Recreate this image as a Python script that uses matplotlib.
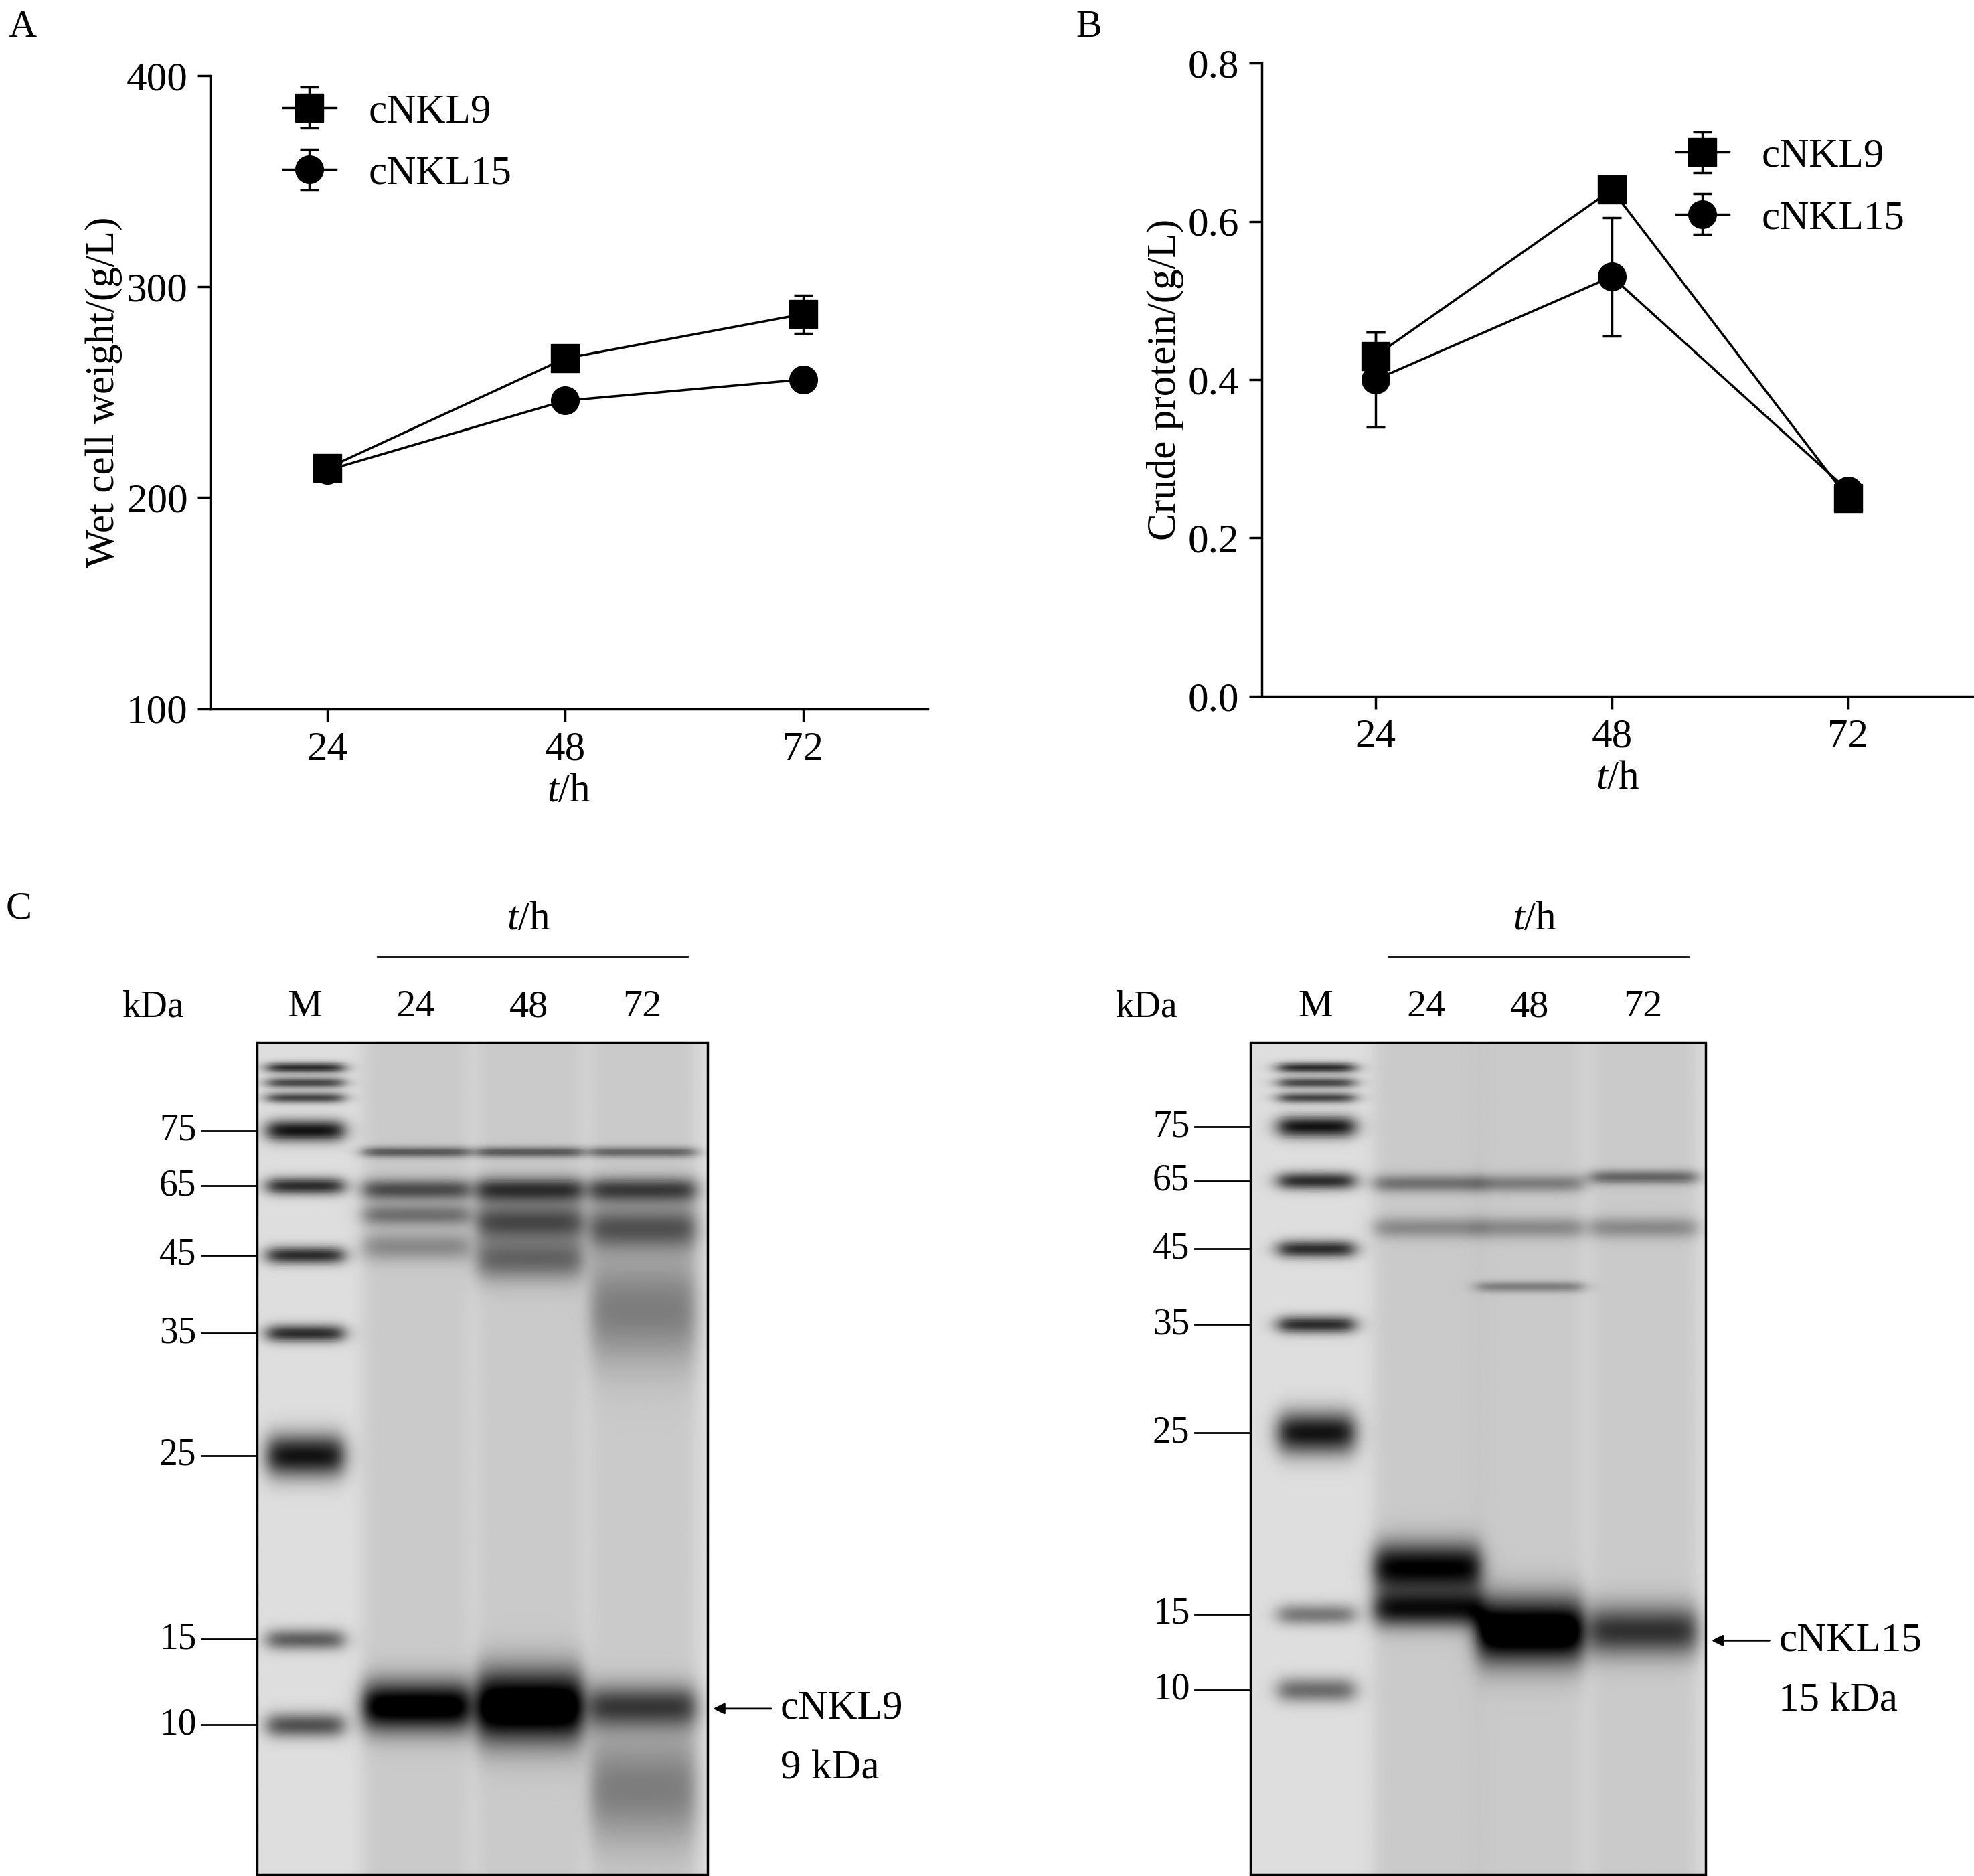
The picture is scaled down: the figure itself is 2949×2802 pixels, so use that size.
import numpy as np
import matplotlib
matplotlib.use("Agg")
import matplotlib.pyplot as plt

plt.rcParams['font.family'] = ['Liberation Serif', 'DejaVu Serif']
plt.rcParams['mathtext.fontset'] = 'custom'
plt.rcParams['mathtext.it'] = 'Liberation Serif:italic'
plt.rcParams['mathtext.rm'] = 'Liberation Serif'

hours = [24, 48, 72]
series = ['cNKL9', 'cNKL15']
wet_cNKL9 = [214, 266, 287]
wet_cNKL9_err = [6, 3, 9]
wet_cNKL15 = [213, 246, 256]
wet_cNKL15_err = [3, 3, 3]
prot_cNKL9 = [0.43, 0.64, 0.25]
prot_cNKL9_err = [0.03, 0.01, 0.01]
prot_cNKL15 = [0.40, 0.53, 0.26]
prot_cNKL15_err = [0.06, 0.075, 0.01]

marker_labels = ['75', '65', '45', '35', '25', '15', '10']
gel1_marker_y = [898, 942, 997, 1059, 1156, 1302, 1370]
gel2_marker_y = [895, 938, 992, 1052, 1138, 1282, 1342]
lane_labels = ['M', '24', '48', '72']
gel1_lane_x = [242, 330, 420, 510]
gel2_lane_x = [1045, 1133, 1215, 1305]
# bands: (lane index, y, darkness, sigma_y)
gel1_bands = [(0, 848, .7, 3), (0, 860, .6, 3), (0, 872, .6, 3), (0, 898, .8, 6), (0, 942, .7, 5),
              (0, 997, .7, 5), (0, 1059, .7, 5), (0, 1156, .8, 12), (0, 1302, .5, 6), (0, 1370, .55, 7),
              (1, 915, .45, 3), (1, 945, .5, 6), (1, 965, .35, 6), (1, 990, .25, 8), (1, 1355, .9, 14),
              (2, 915, .45, 3), (2, 945, .6, 7), (2, 970, .5, 10), (2, 1000, .4, 12), (2, 1355, 1.0, 20),
              (3, 915, .4, 3), (3, 945, .55, 7), (3, 975, .45, 12), (3, 1040, .3, 30), (3, 1355, .55, 12), (3, 1420, .3, 30)]
gel2_bands = [(0, 848, .7, 3), (0, 860, .6, 3), (0, 872, .6, 3), (0, 895, .8, 6), (0, 938, .7, 5),
              (0, 992, .7, 5), (0, 1052, .7, 5), (0, 1138, .8, 12), (0, 1282, .4, 6), (0, 1342, .45, 7),
              (1, 940, .35, 5), (1, 975, .25, 6), (1, 1245, .8, 14), (1, 1278, .7, 10),
              (2, 940, .3, 5), (2, 975, .25, 6), (2, 1022, .3, 3), (2, 1295, 1.0, 18),
              (3, 935, .4, 4), (3, 975, .25, 6), (3, 1295, .6, 14)]

W, H = 1568, 1490
fig = plt.figure(figsize=(29.49, 28.02), dpi=100)

def rect(x0, y0, x1, y1):
    return [x0 / W, 1 - y1 / H, (x1 - x0) / W, (y1 - y0) / H]

FS = 44

def line_panel(r, xl, yl, ylim, yticks, fmt, d1, e1, d2, e2, ylabel, legpos):
    ax = fig.add_axes(rect(*r))
    ax.errorbar(hours, d1, yerr=e1, color='black', marker='s', ms=30, lw=2.5, capsize=10, elinewidth=2.5, capthick=2.5, label=series[0])
    ax.errorbar(hours, d2, yerr=e2, color='black', marker='o', ms=30, lw=2.5, capsize=10, elinewidth=2.5, capthick=2.5, label=series[1])
    ax.set_xlim(*xl)
    ax.set_ylim(*ylim)
    ax.set_xticks(hours)
    ax.set_yticks(yticks)
    ax.set_yticklabels([fmt.format(v) for v in yticks])
    for s in ['top', 'right']:
        ax.spines[s].set_visible(False)
    for s in ['left', 'bottom']:
        ax.spines[s].set_linewidth(2.5)
    ax.tick_params(labelsize=FS, width=2.5, length=14, direction='out', pad=10)
    ax.set_xlabel(r'$t$/h', fontsize=FS, labelpad=5)
    ax.set_ylabel(ylabel, fontsize=FS)
    ax.legend(frameon=False, fontsize=FS, loc='upper left', bbox_to_anchor=legpos, handlelength=1.3, labelspacing=0.6)
    return ax

line_panel((167, 60, 737, 563), (12.2, 84.6), None, (100, 400), [100, 200, 300, 400], '{:.0f}',
           wet_cNKL9, wet_cNKL9_err, wet_cNKL15, wet_cNKL15_err, 'Wet cell weight/(g/L)', (0.05, 1.03))
line_panel((1002, 50, 1568, 553), (12.4, 84.8), None, (0, 0.8), [0, 0.2, 0.4, 0.6, 0.8], '{:.1f}',
           prot_cNKL9, prot_cNKL9_err, prot_cNKL15, prot_cNKL15_err, 'Crude protein/(g/L)', (0.53, 0.94))

ov = fig.add_axes([0, 0, 1, 1])
ov.set_xlim(0, W)
ov.set_ylim(H, 0)
ov.axis('off')

def gel(x0, x1, y0, y1, lane_x, bands, marker_y, arrow_y, name, kda):
    nx, ny = x1 - x0, y1 - y0
    xs = np.arange(nx) + x0
    ys = np.arange(ny)[:, None] + y0
    dark = np.full((ny, nx), 0.13)
    for li, yc, d, sy in bands:
        hw = 30 if li == 0 else 42
        lx = lane_x[li]
        prof = 1 / (1 + np.exp((np.abs(xs - lx) - hw) / 4))
        dark += d * np.exp(-0.5 * ((ys - yc) / sy) ** 2) * prof[None, :]
    for li in range(1, 4):
        prof = 1 / (1 + np.exp((np.abs(xs - lane_x[li]) - 42) / 4))
        dark += 0.08 * prof[None, :]
    img = 1 - np.clip(dark, 0, 1)
    ov.imshow(img, cmap='gray', vmin=0, vmax=1, extent=(x0, x1, y1, y0), aspect='auto', zorder=1)
    ov.add_patch(plt.Rectangle((x0, y0), nx, ny, fill=False, lw=2.5, ec='black', zorder=2))
    for lab, my in zip(marker_labels, marker_y):
        ov.plot([x0 - 44, x0], [my, my], color='black', lw=2)
        ov.text(x0 - 48, my, lab, fontsize=FS - 4, ha='right', va='center')
    ov.text(x0 - 82, 800, 'kDa', fontsize=FS - 4, ha='center', va='center')
    for lab, lx in zip(lane_labels, lane_x):
        ov.text(lx, 800, lab, fontsize=FS - 2, ha='center', va='center')
    ov.plot([lane_x[1] - 30, lane_x[3] + 36], [760, 760], color='black', lw=2)
    ov.text((lane_x[1] + lane_x[3]) / 2, 730, r'$t$/h', fontsize=FS, ha='center', va='center')
    ov.annotate('', xy=(x1 + 3, arrow_y), xytext=(x1 + 52, arrow_y),
                arrowprops=dict(arrowstyle='-|>', color='black', lw=2, mutation_scale=25))
    ov.text(x1 + 58, arrow_y, name, fontsize=FS, ha='left', va='center')
    ov.text(x1 + 58, arrow_y + 48, kda, fontsize=FS, ha='left', va='center')

gel(204, 562, 828, 1489, gel1_lane_x, gel1_bands, gel1_marker_y, 1357, 'cNKL9', '9 kDa')
gel(993, 1355, 828, 1489, gel2_lane_x, gel2_bands, gel2_marker_y, 1303, 'cNKL15', '15 kDa')

for lab, x, y in [('A', 18, 22), ('B', 865, 22), ('C', 15, 722)]:
    ov.text(x, y, lab, fontsize=FS - 2, ha='center', va='center')

fig.savefig('out.png', dpi=100)
